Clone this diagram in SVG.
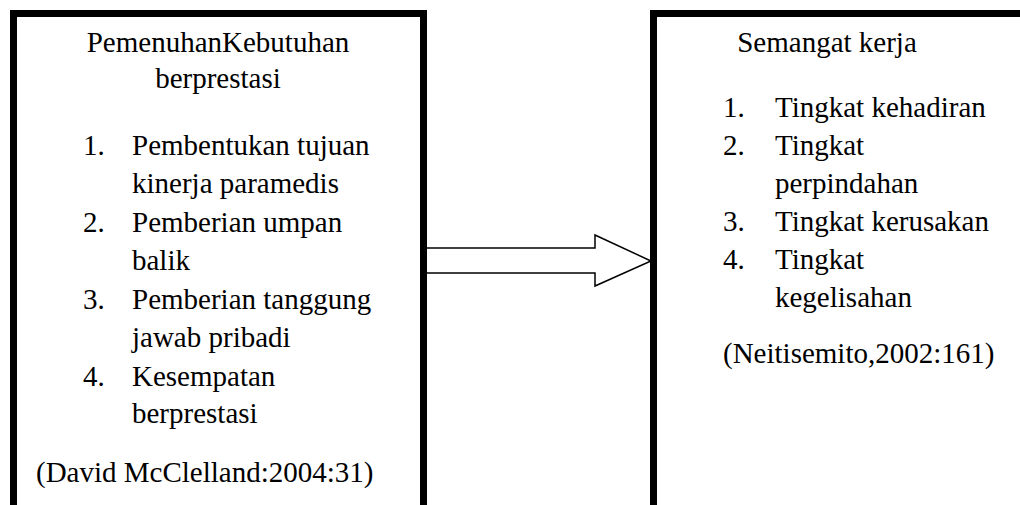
<svg xmlns="http://www.w3.org/2000/svg" width="1020" height="505" viewBox="0 0 1020 505">
<style>
text{font-family:"Liberation Serif","Times New Roman",serif;font-size:29px;fill:#000}
.c{text-anchor:middle}
.box{fill:none;stroke:#000;stroke-width:7}
</style>
<rect x="0" y="0" width="1020" height="505" fill="#fff"/>
<g id="connectors">
<polygon points="424,248 595,248 595,235 651,261 595,286 595,273 424,273" fill="#fff" stroke="#000" stroke-width="1.5"/>
</g>
<g id="node-left">
<polyline class="box" points="13.5,505 13.5,13.5 423.5,13.5 423.5,505"/>
<text class="c" x="218" y="52">PemenuhanKebutuhan</text>
<text class="c" x="218" y="88">berprestasi</text>
<text x="83" y="155">1.</text><text x="132" y="155">Pembentukan tujuan</text>
<text x="132" y="193">kinerja paramedis</text>
<text x="83" y="232">2.</text><text x="132" y="232">Pemberian umpan</text>
<text x="132" y="270">balik</text>
<text x="83" y="309">3.</text><text x="132" y="309">Pemberian tanggung</text>
<text x="132" y="347">jawab pribadi</text>
<text x="83" y="386">4.</text><text x="132" y="386">Kesempatan</text>
<text x="132" y="423">berprestasi</text>
<text x="36" y="482">(David McClelland:2004:31)</text>
</g>
<g id="node-right">
<polyline class="box" points="653.5,505 653.5,13.5 1024,13.5"/>
<text class="c" x="827" y="52">Semangat kerja</text>
<text x="723" y="117">1.</text><text x="775" y="117">Tingkat kehadiran</text>
<text x="723" y="155">2.</text><text x="775" y="155">Tingkat</text>
<text x="775" y="193">perpindahan</text>
<text x="723" y="231">3.</text><text x="775" y="231">Tingkat kerusakan</text>
<text x="723" y="269">4.</text><text x="775" y="269">Tingkat</text>
<text x="775" y="307">kegelisahan</text>
<text x="723" y="363">(Neitisemito,2002:161)</text>
</g>
</svg>
